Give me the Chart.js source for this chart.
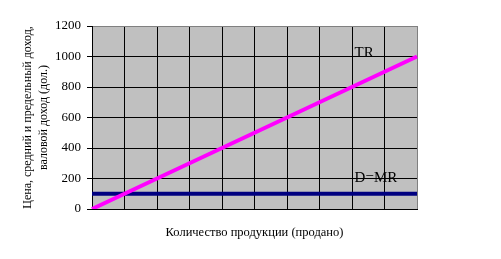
<!DOCTYPE html>
<html>
<head>
<meta charset="utf-8">
<script src="https://cdn.jsdelivr.net/npm/chart.js@4/dist/chart.umd.min.js"></script>
<style>
    html, body { margin: 0; padding: 0; background: #fff; }
    canvas { display: block; }
</style>
</head>
<body>
<canvas id="revenueChart" width="501" height="259"></canvas>
<script>
// Data
const quantities = ['0', '1', '2', '3', '4', '5', '6', '7', '8', '9', '10'];
const totalRevenue = [0, 100, 200, 300, 400, 500, 600, 700, 800, 900, 1000];
const marginalRevenue = [100, 100, 100, 100, 100, 100, 100, 100, 100, 100, 100];
const seriesNames = ['TR', 'D=MR'];
const yTitleLines = ['Цена, средний и предельный доход,', 'валовой доход (дол.)'];
const xTitle = 'Количество продукции (продано)';

const SERIF = '"Liberation Serif", "Times New Roman", serif';

// Gray plot area like the old Excel chart
const plotBackground = {
    id: 'plotBackground',
    beforeDraw(chart) {
        const { ctx, chartArea: a } = chart;
        ctx.save();
        ctx.fillStyle = '#c0c0c0';
        ctx.fillRect(a.left, a.top, a.right - a.left, a.bottom - a.top);
        ctx.restore();
    }
};

// Series names written next to the lines
const lineLabels = {
    id: 'lineLabels',
    afterDatasetsDraw(chart) {
        const { ctx, scales: { x, y } } = chart;
        const spots = [
            { text: seriesNames[0], xv: 8.08, yv: 1021 },
            { text: seriesNames[1], xv: 8.08, yv: 205 }
        ];
        ctx.save();
        ctx.font = '15px ' + SERIF;
        ctx.fillStyle = '#000';
        ctx.textAlign = 'left';
        ctx.textBaseline = 'middle';
        spots.forEach(s => ctx.fillText(s.text, x.getPixelForValue(s.xv), y.getPixelForValue(s.yv)));
        ctx.restore();
    }
};

new Chart(document.getElementById('revenueChart'), {
    type: 'line',
    plugins: [plotBackground, lineLabels],
    data: {
        labels: quantities,
        datasets: [
            {
                label: seriesNames[0],
                data: totalRevenue,
                borderColor: '#ff00ff',
                borderWidth: 4,
                pointRadius: 0,
                tension: 0
            },
            {
                label: seriesNames[1],
                data: marginalRevenue,
                borderColor: '#000080',
                borderWidth: 4,
                pointRadius: 0,
                tension: 0
            }
        ]
    },
    options: {
        responsive: false,
        animation: false,
        devicePixelRatio: 1,
        layout: { padding: { top: 26, right: 84, left: 0, bottom: 0 } },
        plugins: {
            legend: { display: false },
            tooltip: { enabled: false }
        },
        scales: {
            x: {
                type: 'category',
                offset: false,
                afterFit: scale => { scale.height = 50; },
                grid: {
                    color: ctx => (ctx.index === quantities.length - 1 ? '#808080' : '#000'),
                    lineWidth: 1,
                    drawTicks: false
                },
                border: { color: '#000', width: 1 },
                ticks: { display: false },
                title: {
                    display: true,
                    text: xTitle,
                    color: '#000',
                    font: { family: SERIF, size: 12.5, lineHeight: 1.25 },
                    padding: { top: 0, bottom: 18 }
                }
            },
            y: {
                min: 0,
                max: 1200,
                afterFit: scale => { scale.width = 92; },
                grid: {
                    color: ctx => (ctx.tick && ctx.tick.value === 1200 ? '#808080' : '#000'),
                    tickColor: '#000',
                    tickLength: 5,
                    lineWidth: 1
                },
                border: { color: '#000', width: 1 },
                ticks: {
                    stepSize: 200,
                    color: '#000',
                    padding: 6,
                    font: { family: SERIF, size: 13 },
                    callback: value => String(value)
                },
                title: {
                    display: true,
                    text: yTitleLines,
                    color: '#000',
                    font: { family: SERIF, size: 12, lineHeight: 1.333 },
                    padding: { top: 20, bottom: 0 }
                }
            }
        }
    }
});
</script>
</body>
</html>
